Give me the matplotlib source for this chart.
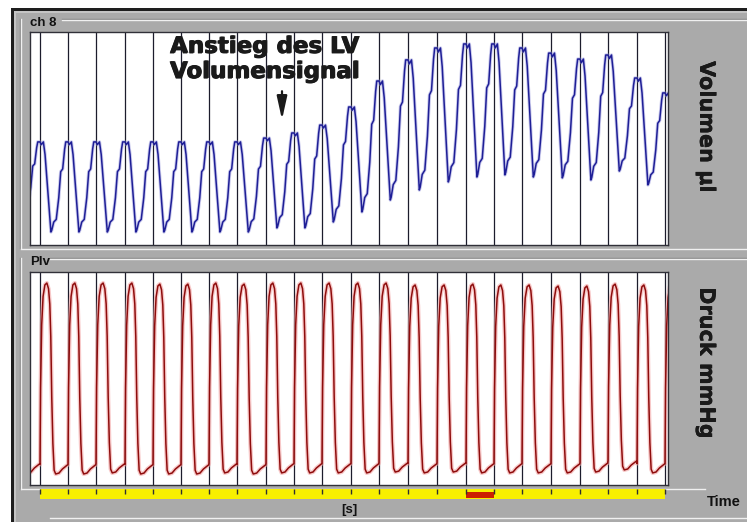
import numpy as np
import matplotlib
matplotlib.use("Agg")
import matplotlib.pyplot as plt
import matplotlib.patheffects as pe
from matplotlib.patches import Rectangle

W, H = 747, 522
GREY = "#aaaaaa"
INK = "#1a1a1a"

# beat markers in seconds (first one is the lead-in beat left of the window)
markers = np.array([-0.18, 0.10, 0.38, 0.66, 0.95, 1.23, 1.51, 1.79, 2.07, 2.36, 2.64, 2.92,
                    3.21, 3.49, 3.78, 4.07, 4.36, 4.64, 4.92, 5.21, 5.50, 5.78, 6.07, 6.35])

# LV volume (ul, arbitrary scale): value at each peak and at the following minimum
vol_peak = [48.4, 48.4, 48.4, 48.4, 48.4, 48.4, 48.4, 48.4, 48.4, 50.2, 52.6, 56.3,
            64.8, 77.0, 86.9, 92.5, 94.4, 94.4, 92.5, 90.1, 87.3, 89.2, 78.4, 71.4]
vol_min = [14.0, 6.1, 6.1, 6.1, 6.1, 6.1, 6.1, 6.1, 6.1, 8.0, 8.0, 10.8,
           15.5, 21.1, 25.8, 29.6, 31.9, 32.9, 31.9, 31.5, 30.5, 34.7, 28.2, 28.0]

# LV pressure (mmHg): systolic peak and diastolic minimum of each beat
p_peak = [113.8, 113.8, 113.8, 113.8, 113.8, 113.2, 113.2, 113.8, 113.2, 113.8, 113.8, 113.8,
          113.8, 113.8, 112.7, 112.7, 113.2, 112.7, 112.7, 112.1, 112.1, 113.2, 112.7, 113.2]
p_min = [6.8, 6.2, 6.2, 6.8, 6.2, 6.2, 6.2, 6.8, 6.2, 6.8, 6.8, 6.8,
         6.8, 7.3, 6.8, 7.3, 6.8, 6.8, 6.8, 6.8, 7.3, 8.5, 6.8, 6.8]

vol_fall_phase = [0.0, 0.05, 0.12, 0.18, 0.25, 0.32, 0.39]
vol_fall_level = [1.0, 0.97, 1.0, 0.86, 0.57, 0.29, 0.0]
vol_rise_phase = [0.42, 0.49, 0.58, 0.67, 0.74, 0.81, 0.88, 0.92]
vol_rise_level = [0.02, 0.11, 0.14, 0.38, 0.67, 0.70, 0.92, 1.0]
p_phase = [0.0, 0.02, 0.06, 0.11, 0.175, 0.245, 0.305, 0.35, 0.385, 0.42, 0.46,
           0.505, 0.56, 0.68, 0.80, 0.92, 0.985]
p_level = [0.05, 0.45, 0.78, 0.93, 0.99, 1.0, 0.97, 0.89, 0.72, 0.40, 0.16,
           0.02, 0.0, 0.005, 0.026, 0.04, 0.048]

active_beat = 16  # red segment on the time bar


def build_traces():
    tv, vv, tp, pp = [], [], [], []
    n = len(markers)
    for k in range(n):
        period = markers[k + 1] - markers[k] if k + 1 < n else markers[k] - markers[k - 1]
        for ph, lv in zip(vol_fall_phase, vol_fall_level):
            tv.append(markers[k] + ph * period)
            vv.append(vol_min[k] + lv * (vol_peak[k] - vol_min[k]))
        if k + 1 < n:
            for ph, lv in zip(vol_rise_phase, vol_rise_level):
                tv.append(markers[k] + ph * period)
                vv.append(vol_min[k] + lv * (vol_peak[k + 1] - vol_min[k]))
        for ph, lv in zip(p_phase, p_level):
            tp.append(markers[k] + ph * period)
            pp.append(p_min[k] + lv * (p_peak[k] - p_min[k]))
    return tv, vv, tp, pp


def px_rect(x0, y0, x1, y1):
    return [x0 / W, 1 - y1 / H, (x1 - x0) / W, (y1 - y0) / H]


def heavy(dx, dy):
    # extra filled copies shifted a little make the bold font heavier
    return [pe.SimplePatchShadow(offset=(dx, 0), shadow_rgbFace=INK, alpha=1),
            pe.SimplePatchShadow(offset=(0, -dy), shadow_rgbFace=INK, alpha=1),
            pe.Normal()]


fig = plt.figure(figsize=(W / 100, H / 100), dpi=100, facecolor="white")

# window background / group boxes drawn in pixel coordinates
bg = fig.add_axes([0, 0, 1, 1], zorder=0)
bg.set_xlim(0, W)
bg.set_ylim(H, 0)
bg.axis("off")
bg.add_patch(Rectangle((11, 8), W, H, fc="#1e1e1e", ec="none"))
bg.add_patch(Rectangle((14, 11), W, H, fc="#c4c4c4", ec="none"))
bg.add_patch(Rectangle((16, 13), W, H, fc=GREY, ec="none"))
for y0, y1, xs in [(19, 248, 62), (258, 489, 50)]:
    bg.plot([xs, W], [y0, y0], color="#858585", lw=1)
    bg.plot([xs, W], [y0 + 1, y0 + 1], color="#f0f0f0", lw=1)
    bg.plot([20, 20], [y0, y1], color="#858585", lw=1)
    bg.plot([21, 21], [y0, y1], color="#f0f0f0", lw=1)
bg.plot([21, W], [249, 249], color="#f0f0f0", lw=1)
bg.plot([21, 705], [489, 489], color="#f0f0f0", lw=1)
bg.plot([50, W], [518, 518], color="#f0f0f0", lw=1)

small = dict(family="Liberation Sans", fontweight="bold", color="#111111")
bg.text(30, 23, "ch 8", ha="left", va="center", fontsize=9.5, **small)
bg.text(30, 262, "Plv", ha="left", va="center", fontsize=9.5, **small)
bg.text(349, 510, "[s]", ha="center", va="center", fontsize=9.5, **small)
bg.text(724, 502, "Time", ha="center", va="center", fontsize=10.5, **small)
big = dict(family="DejaVu Sans", fontweight="bold", color=INK, fontsize=15,
           rotation=-90, ha="center", va="center", path_effects=heavy(0.6, 0))
bg.text(706, 127, "Volumen µl", **big)
bg.text(706, 363, "Druck mmHg", **big)

t_vol, v_vol, t_p, v_p = build_traces()
visible = markers[1:]
xlim = (0, 6.38)

ax_v = fig.add_axes(px_rect(30, 32, 668, 245), zorder=2)
ax_p = fig.add_axes(px_rect(30, 272, 668, 485), zorder=2)
for ax in (ax_v, ax_p):
    ax.set_facecolor("white")
    ax.set_xlim(*xlim)
    ax.set_xticks([])
    ax.set_yticks([])
    for s in ax.spines.values():
        s.set_color("#303038")
        s.set_linewidth(1)
    ax.vlines(visible, 0, 1, transform=ax.get_xaxis_transform(), color="#1c1c2c", lw=0.9)

ax_v.set_ylim(0, 100)
ax_v.plot(t_vol, v_vol, color="#8a8ad8", lw=2.4, alpha=0.45)
ax_v.plot(t_vol, v_vol, color="#1e1e96", lw=1.1)

ax_p.set_ylim(0, 120)
ax_p.plot(t_p, v_p, color="#f3a4a4", lw=3.0, alpha=0.6)
ax_p.plot(t_p, v_p, color="#8e0c0c", lw=1.1)

# annotation
ax_v.text(2.34, 87.4, "Anstieg des LV\nVolumensignal", ha="center", va="center",
          fontsize=16.5, fontweight="bold", family="DejaVu Sans", color=INK,
          linespacing=1.12, zorder=5, path_effects=heavy(0.8, 0.5))
ax_v.annotate("", xy=(2.52, 57.5), xytext=(2.52, 73.5),
              arrowprops=dict(arrowstyle="-|>,head_length=1.0,head_width=0.22",
                              color=INK, lw=1.6, mutation_scale=14))

# time bar
ax_t = fig.add_axes(px_rect(30, 487, 668, 500), zorder=2)
ax_t.set_xlim(*xlim)
ax_t.set_ylim(0, 1)
ax_t.axis("off")
ax_t.axvspan(visible[0], visible[-1], ymin=0.08, ymax=0.85, color="#f8f000", lw=0)
ax_t.axvspan(visible[active_beat - 1], visible[active_beat], ymin=0.15, ymax=0.6,
             color="#cc2000", lw=0)
ax_t.vlines(visible, 0.45, 0.85, color="#303030", lw=1)

fig.savefig("out.png", dpi=100, facecolor=fig.get_facecolor())
